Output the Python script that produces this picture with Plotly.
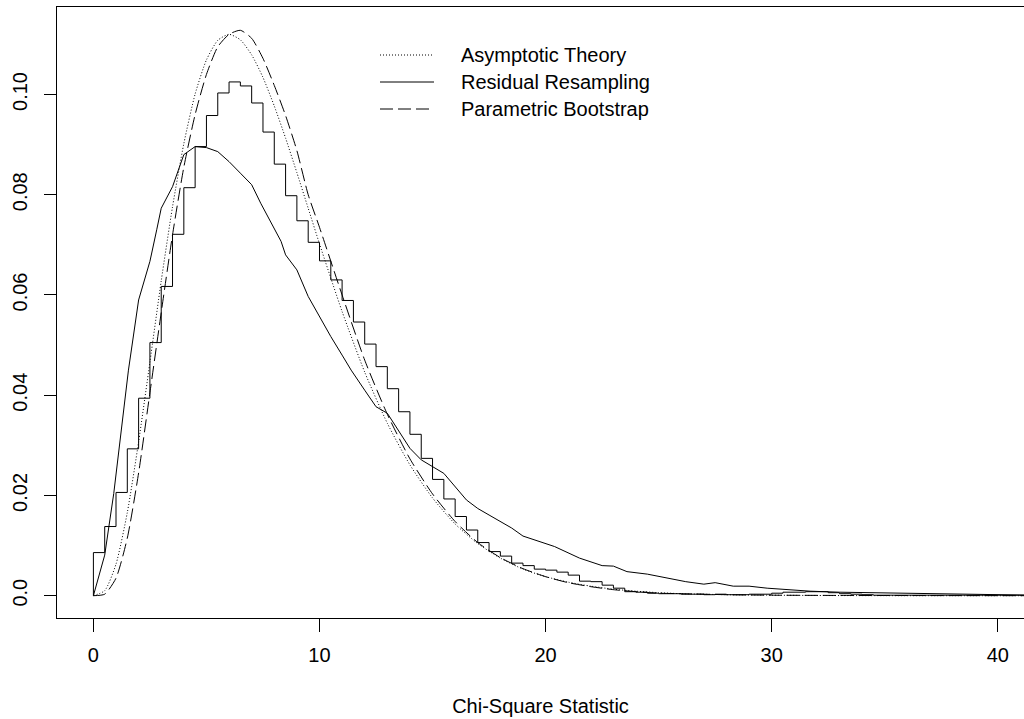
import plotly.graph_objects as go

# ---- data ----
asym_x = [0, 0.5, 1, 1.5, 2, 2.5, 3, 3.5, 4, 4.5, 5, 5.5, 6, 6.5, 7, 7.5, 8, 8.5, 9, 9.5,
          10, 11, 12, 13, 14, 15, 16, 17, 18, 19, 20, 21, 22, 23, 24, 25, 26, 28, 30, 32, 35, 38, 41.5]
asym_y = [0, 0.0010, 0.0063, 0.0166, 0.0307, 0.0466, 0.0628, 0.0776, 0.0902, 0.1001, 0.1069,
          0.1108, 0.1120, 0.1109, 0.1079, 0.1034, 0.0977, 0.0913, 0.0844, 0.0773, 0.0702,
          0.0567, 0.0446, 0.0344, 0.0261, 0.0195, 0.0143, 0.0104, 0.0075, 0.0053, 0.0038,
          0.0027, 0.0019, 0.0013, 0.0009, 0.0006, 0.0004, 0.0002, 0.0001, 0.00004, 0.00001, 0.0, 0.0]

rr_x = [0, 0.5, 0.9, 1.25, 1.55, 2.0, 2.5, 2.8, 3.0, 3.5, 4.0, 4.5, 5.0, 5.5, 6.0, 6.5, 7.0, 7.4,
        7.8, 8.3, 8.5, 9.0, 9.5, 10.0, 10.5, 11.0, 11.4, 12.0, 12.5, 13.0, 13.4, 14.0, 14.5, 15.5,
        16.5, 17.0, 17.5, 18.5, 19.0, 20.4, 21.5, 22.5, 23.0, 23.6, 24.5, 25.4, 26.2, 27.0, 27.5,
        28.3, 29.0, 29.8, 31.7, 33.0, 35.7, 37.9, 41.5]
rr_y = [0, 0.0081, 0.0204, 0.0331, 0.0450, 0.0590, 0.0667, 0.0730, 0.0773, 0.0816, 0.0880,
        0.0896, 0.0894, 0.0886, 0.0866, 0.0843, 0.0820, 0.0783, 0.0750, 0.0707, 0.0680, 0.0650,
        0.0597, 0.0557, 0.0517, 0.0480, 0.0450, 0.0410, 0.0377, 0.0364, 0.0337, 0.0294, 0.0271,
        0.0244, 0.0191, 0.0174, 0.0161, 0.0135, 0.0119, 0.0098, 0.0075, 0.0060, 0.0059, 0.0048,
        0.0043, 0.0035, 0.0028, 0.0023, 0.0026, 0.0019, 0.0019, 0.0015, 0.0009, 0.0007, 0.0005,
        0.0003, 0.0001]

pb_x = [0, 0.5, 1, 1.5, 2, 2.5, 3, 3.5, 4, 4.5, 5, 5.5, 6, 6.5, 7, 7.5, 8, 8.5, 9, 9.5,
        10, 11, 12, 13, 14, 15, 16, 17, 18, 19, 20, 21, 22, 23, 24, 25, 26, 28, 30, 33, 36, 41.5]
pb_y = [0, 0.0003, 0.0035, 0.0115, 0.0245, 0.0405, 0.0565, 0.0720, 0.0855, 0.0960, 0.1040,
        0.1095, 0.1120, 0.1128, 0.1112, 0.1072, 0.1018, 0.0958, 0.0888, 0.0800, 0.0735,
        0.0600, 0.0470, 0.0362, 0.0273, 0.0203, 0.0148, 0.0106, 0.0076, 0.0054, 0.0038,
        0.0026, 0.0018, 0.0012, 0.0008, 0.0005, 0.0004, 0.0002, 0.0001, 0.00005, 0.00003, 0.0]

# histogram of resampled statistics (right edge of each 0.5-wide bin, bin height)
hist_x = [0, 0.5, 1.0, 1.5, 2.0, 2.5, 3.0, 3.5, 4.0, 4.5, 5.0, 5.5, 6.0, 6.5, 7.0, 7.5, 8.0,
          8.5, 9.0, 9.5, 10.0, 10.5, 11.0, 11.5, 12.0, 12.5, 13.0, 13.5, 14.0, 14.5, 15.0,
          15.5, 16.0, 16.5, 17.0, 17.5, 18.0, 18.5, 19.0, 19.5, 20.0, 20.5, 21.0, 21.5, 22.0,
          22.5, 23.0, 23.5, 24.0, 24.5, 25.0, 26.0, 27.0, 27.5, 28.0, 29.0, 30.0, 30.5, 31.5,
          32.5, 33.0, 33.5, 34.0, 34.5, 41.5]
hist_y = [0, 0.0086, 0.0138, 0.0206, 0.0293, 0.0394, 0.0505, 0.0617, 0.0721, 0.0814, 0.0896,
          0.0958, 0.1003, 0.1025, 0.1017, 0.0983, 0.0925, 0.0861, 0.0798, 0.0748, 0.0705,
          0.0668, 0.0630, 0.0589, 0.0546, 0.0502, 0.0457, 0.0413, 0.0367, 0.0322, 0.0274,
          0.0232, 0.0193, 0.0158, 0.0131, 0.0106, 0.0088, 0.0079, 0.0065, 0.0060, 0.0053,
          0.0051, 0.0047, 0.0041, 0.0029, 0.0028, 0.0021, 0.0015, 0.0008, 0.0007, 0.0005,
          0.0004, 0.0003, 0.0002, 0.0003, 0.0002, 0.0003, 0.0005, 0.0007, 0.0008, 0.0006,
          0.0004, 0.0003, 0.0002, 0.0001]

x_ticks = [0, 10, 20, 30, 40]
y_ticks = [0.0, 0.02, 0.04, 0.06, 0.08, 0.10]
y_tick_text = ["0.0", "0.02", "0.04", "0.06", "0.08", "0.10"]
legend_labels = ["Asymptotic Theory", "Residual Resampling", "Parametric Bootstrap"]

FONT = "Liberation Sans, Arial, Helvetica, sans-serif"
BLACK = "#000000"

fig = go.Figure()
fig.add_trace(go.Scatter(x=hist_x, y=hist_y, mode="lines", line=dict(color=BLACK, width=1, shape="vh"),
                         showlegend=False, hoverinfo="skip"))
fig.add_trace(go.Scatter(x=asym_x, y=asym_y, mode="lines", name=legend_labels[0],
                         line=dict(color=BLACK, width=1, dash="1px,2px", shape="spline", smoothing=0.6),
                         showlegend=False))
fig.add_trace(go.Scatter(x=rr_x, y=rr_y, mode="lines", name=legend_labels[1],
                         line=dict(color=BLACK, width=1), showlegend=False))
fig.add_trace(go.Scatter(x=pb_x, y=pb_y, mode="lines", name=legend_labels[2],
                         line=dict(color=BLACK, width=1, dash="13px,5px", shape="spline", smoothing=0.6),
                         showlegend=False))

# manual legend (R style, no box)
L, T, PW, PH = 57, 7, 967, 611
def px_x(p):
    return (p - L) / PW
def px_y(p):
    return (T + PH - p) / PH

leg_rows = [55, 82, 109]
leg_dash = ["1px,2px", "solid", "13px,5px"]
for lab, ry, dsh in zip(legend_labels, leg_rows, leg_dash):
    fig.add_shape(type="line", xref="paper", yref="paper",
                  x0=px_x(380), x1=px_x(434), y0=px_y(ry), y1=px_y(ry),
                  line=dict(color=BLACK, width=1, dash=dsh))
    fig.add_annotation(xref="paper", yref="paper", x=px_x(459), y=px_y(ry),
                       text=lab, showarrow=False, xanchor="left", yanchor="middle",
                       font=dict(family=FONT, size=20, color=BLACK))

fig.update_layout(
    width=1024, height=719,
    margin=dict(l=L, r=0, t=T, b=719 - T - PH, pad=0),
    paper_bgcolor="white", plot_bgcolor="white",
    font=dict(family=FONT, size=20, color=BLACK),
    showlegend=False,
    xaxis=dict(range=[-1.61, 41.16], tickvals=x_ticks, ticks="outside", ticklen=13,
               tickcolor=BLACK, tickwidth=1, showline=True, linecolor=BLACK, linewidth=1,
               mirror=True, showgrid=False, zeroline=False,
               tickfont=dict(family=FONT, size=20, color=BLACK),
               ticklabelstandoff=6,
               title=dict(text="Chi-Square Statistic", standoff=33,
                          font=dict(family=FONT, size=20, color=BLACK))),
    yaxis=dict(range=[-0.00445, 0.11745], tickvals=y_ticks, ticktext=y_tick_text,
               ticks="outside", ticklen=12, tickcolor=BLACK, tickwidth=1, tickangle=-90,
               ticklabelstandoff=9,
               showline=True, linecolor=BLACK, linewidth=1, mirror=False,
               showgrid=False, zeroline=False,
               tickfont=dict(family=FONT, size=20, color=BLACK)),
)

fig.write_html("out.html")
